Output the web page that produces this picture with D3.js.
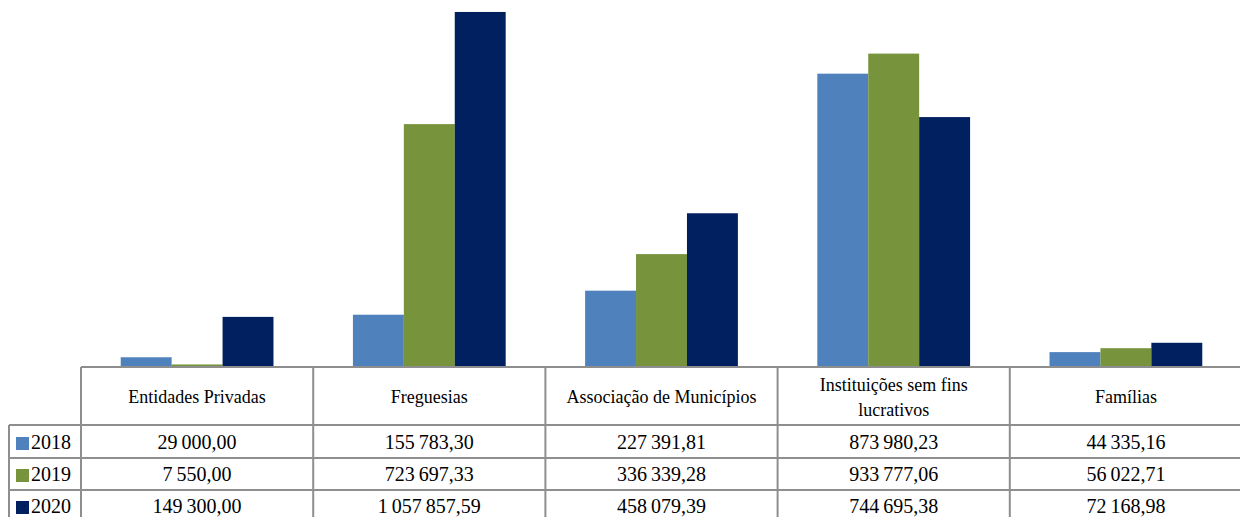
<!DOCTYPE html>
<html><head><meta charset="utf-8">
<script src="https://cdn.jsdelivr.net/npm/d3@7"></script>
<style>html,body{margin:0;padding:0;background:#fff;}svg{display:block;}</style>
</head><body>
<svg id="c" width="1240" height="517"></svg>
<script>
const categories = ["Entidades Privadas","Freguesias","Associação de Municípios","Instituições sem fins lucrativos","Famílias"];
const headerLines = [["Entidades Privadas"],["Freguesias"],["Associação de Municípios"],["Instituições sem fins","lucrativos"],["Famílias"]];
const seriesNames = ["2018","2019","2020"];
const values2018 = [29000.00, 155783.30, 227391.81, 873980.23, 44335.16];
const values2019 = [7550.00, 723697.33, 336339.28, 933777.06, 56022.71];
const values2020 = [149300.00, 1057857.59, 458079.39, 744695.38, 72168.98];
const colors = ["#4F81BD","#77933C","#002060"];
const series = [values2018, values2019, values2020];

const FONT = "Liberation Serif, DejaVu Serif, serif";
const svg = d3.select("#c");
const left = 81, right = 1242, base = 367;
const x0 = d3.scaleBand().domain(categories).range([left, right]).paddingInner(0).paddingOuter(0);
const x1 = d3.scaleBand().domain(seriesNames).range([0, x0.bandwidth()]).paddingOuter(0.78).paddingInner(0);
const y = d3.scaleLinear().domain([0, 1093500]).range([base, 0]);

const loc = d3.formatLocale({decimal: ",", thousands: "\u2009", grouping: [3], currency: ["", ""]});
const fmt = loc.format(",.2f");

seriesNames.forEach((s, si) => {
  svg.append("g").selectAll("rect").data(series[si]).join("rect")
    .attr("x", (d, i) => x0(categories[i]) + x1(s))
    .attr("width", x1.bandwidth())
    .attr("y", d => y(d))
    .attr("height", d => base - y(d))
    .attr("fill", colors[si]);
});

const grid = "#8e8e8e";
const g = svg.append("g").attr("stroke", grid).attr("stroke-width", 2);
const rowY = [base, 425, 458, 490, 523];
g.append("line").attr("x1", left).attr("x2", 1240).attr("y1", base).attr("y2", base);
rowY.slice(1).forEach(yy => g.append("line").attr("x1", 9).attr("x2", 1240).attr("y1", yy).attr("y2", yy));
categories.forEach(c => g.append("line").attr("x1", x0(c)).attr("x2", x0(c)).attr("y1", base).attr("y2", 523));
g.append("line").attr("x1", 9).attr("x2", 9).attr("y1", 425).attr("y2", 523);

categories.forEach((c, i) => {
  const lines = headerLines[i];
  const cx = x0(c) + x0.bandwidth() / 2;
  const t = svg.append("text").attr("x", cx).attr("text-anchor", "middle")
    .style("font-family", FONT).attr("font-size", 18).attr("fill", "#000");
  if (lines.length === 1) {
    t.attr("y", 403).text(lines[0]);
  } else {
    t.append("tspan").attr("x", cx).attr("y", 391).text(lines[0]);
    t.append("tspan").attr("x", cx).attr("y", 416).text(lines[1]);
  }
});

const baselines = [449, 481, 513];
series.forEach((vals, si) => {
  svg.append("g").selectAll("text").data(vals).join("text")
    .attr("x", (d, i) => x0(categories[i]) + x0.bandwidth() / 2)
    .attr("y", baselines[si])
    .attr("text-anchor", "middle")
    .style("font-family", FONT).attr("font-size", 20).attr("fill", "#000")
    .text(d => fmt(d));
  svg.append("rect").attr("x", 16).attr("y", baselines[si] - 12).attr("width", 13).attr("height", 13).attr("fill", colors[si]);
  svg.append("text").attr("x", 31).attr("y", baselines[si]).style("font-family", FONT).attr("font-size", 20)
    .attr("fill", "#000").text(seriesNames[si]);
});
</script>
</body></html>
